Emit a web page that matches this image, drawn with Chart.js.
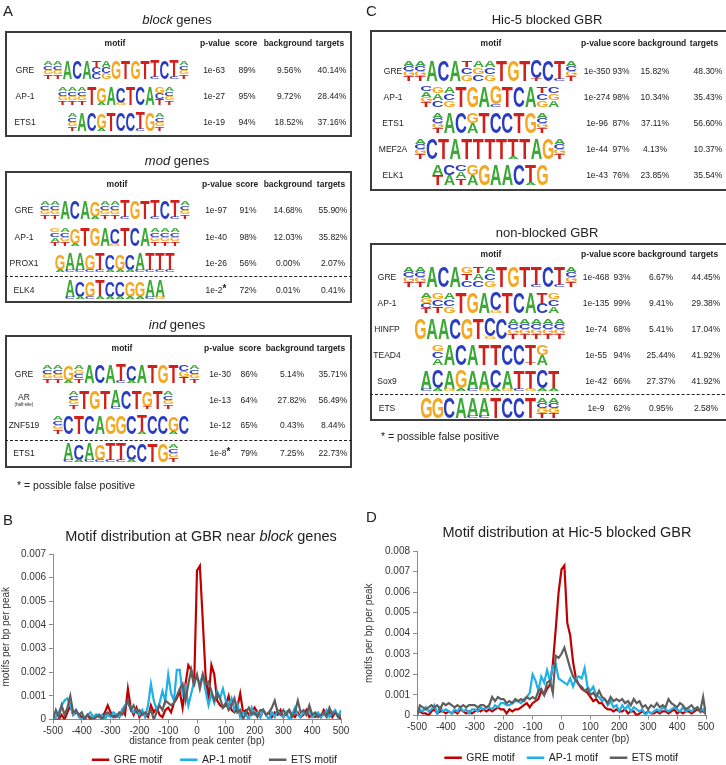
<!DOCTYPE html>
<html>
<head>
<meta charset="utf-8">
<script src="https://cdn.jsdelivr.net/npm/chart.js@4.4.1/dist/chart.umd.min.js"></script>
<style>
  html, body { margin: 0; padding: 0; background: #fff; }
  body { width: 726px; height: 765px; position: relative; overflow: hidden;
         font-family: "Liberation Sans", Arial, sans-serif; color: #222; }
  .abs { position: absolute; white-space: nowrap; line-height: 1; }
  .box { position: absolute; border: 2px solid #3c3c3c; box-sizing: border-box; }
  .dash { position: absolute; height: 0; border-top: 1.4px dashed #222; }
  .hd { font-weight: bold; font-size: 8.5px; }
  .cell { font-size: 8.5px; }
  .ttl { font-size: 13px; }
  .letter { font-size: 15px; }
  .ast { font-weight: bold; font-size: 10px; position: relative; top: -1px; }
  canvas { position: absolute; }
</style>
</head>
<body>
<canvas id="logos" width="726" height="765" style="left:0px;top:0px"></canvas>
<canvas id="chartB" width="363" height="230" style="left:0px;top:545px"></canvas>
<canvas id="chartD" width="363" height="231" style="left:363px;top:542px"></canvas>

<script>
// ── Data: motif distribution profiles ──
const distanceBp = [
  -500, -490, -480, -470, -460, -450, -440, -430, -420, -410,
  -400, -390, -380, -370, -360, -350, -340, -330, -320, -310,
  -300, -290, -280, -270, -260, -250, -240, -230, -220, -210,
  -200, -190, -180, -170, -160, -150, -140, -130, -120, -110,
  -100, -90, -80, -70, -60, -50, -40, -30, -20, -10,
  0, 10, 20, 30, 40, 50, 60, 70, 80, 90,
  100, 110, 120, 130, 140, 150, 160, 170, 180, 190,
  200, 210, 220, 230, 240, 250, 260, 270, 280, 290,
  300, 310, 320, 330, 340, 350, 360, 370, 380, 390,
  400, 410, 420, 430, 440, 450, 460, 470, 480, 490,
  500
];
const seriesNames = ['GRE motif', 'AP-1 motif', 'ETS motif'];

// B: GBR near block genes
const blockGre = [
  0, 0, 0, 0.0002, 0, 0.0003, 0.0006, 0.0002, 0.0003, 0.0002,
  0.0001, 0, 0.0002, 0, 0.0001, 0.0002, 0.0001, 0.0001, 0.0003, 0.0006,
  0.0003, 0.0001, 0.0002, 0.0001, 0.0004, 0.0002, 0.0013, 0.0005, 0.0002, 0.0005,
  0.0001, 0.0003, 0.0002, 0.0001, 0.0006, 0.0003, 0.0005, 0.0002, 0.0001, 0.0004,
  0.0005, 0.0003, 0.0007, 0.0009, 0.0012, 0.0005, 0.0015, 0.0023, 0.0021, 0.0014,
  0.0063, 0.0065, 0.0042, 0.0018, 0.0009, 0.0023, 0.0019, 0.0008, 0.0006, 0.0005,
  0.0006, 0.001, 0.0004, 0.0003, 0.0005, 0.0011, 0.0003, 0.0004, 0.0002, 0.0003,
  0.0005, 0.0003, 0.0001, 0.0004, 0.0002, 0.0003, 0.0001, 0.0003, 0.0002, 0.0004,
  0.0001, 0.0003, 0.0004, 0.0002, 0.0001, 0.0003, 0.0001, 0.0002, 0.0004, 0.0001,
  0.0002, 0.0001, 0.0002, 0.0001, 0.0004, 0.0002, 0.0003, 0.0001, 0.0003, 0.0002,
  0
];
const blockAp1 = [
  0, 0.0001, 0.0003, 0.0006, 0.0008, 0.0009, 0.0006, 0.0002, 0.0004, 0.0001,
  0, 0.0001, 0.0002, 0.0003, 0.0001, 0.0002, 0.0001, 0.0002, 0, 0.0002,
  0.0001, 0.0003, 0.0002, 0.0001, 0.0004, 0.0006, 0.0007, 0.0005, 0.0003, 0.0004,
  0.0002, 0.0004, 0.0001, 0.0006, 0.0015, 0.0008, 0.0004, 0.0007, 0.0012, 0.0008,
  0.0019, 0.0011, 0.0008, 0.0021, 0.0021, 0.0011, 0.0014, 0.0006, 0.0011, 0.0016,
  0.0018, 0.0015, 0.0019, 0.0012, 0.0006, 0.0011, 0.0007, 0.0012, 0.0009, 0.0013,
  0.0008, 0.0006, 0.0009, 0.0004, 0.0007, 0.0001, 0.0003, 0.0002, 0, 0.0005,
  0.0002, 0.0003, 0.0001, 0.0004, 0.0002, 0, 0.0003, 0.0001, 0.0004, 0.0002,
  0.0001, 0.0003, 0, 0.0002, 0.0005, 0.0002, 0.0001, 0.0003, 0.0002, 0.0004,
  0.0001, 0.0002, 0.0003, 0.0001, 0.0002, 0.0004, 0.0001, 0.0003, 0.0004, 0.0001,
  0.0004
];
const blockEts = [
  0, 0.0004, 0.0001, 0.0006, 0.0002, 0.0005, 0.001, 0.0003, 0.0004, 0.0002,
  0.0003, 0, 0.0002, 0.0001, 0, 0.0001, 0.0002, 0, 0.0002, 0.0003,
  0.0002, 0.0001, 0.0001, 0.0003, 0.0002, 0.0005, 0.0008, 0.0004, 0.0006, 0.0003,
  0.0004, 0.0002, 0.0003, 0.0002, 0.0004, 0, 0.0003, 0.0006, 0.0004, 0.0008,
  0.0007, 0.0006, 0.0007, 0.001, 0.0013, 0.0015, 0.0008, 0.0015, 0.0021, 0.0015,
  0.0019, 0.0013, 0.0019, 0.0015, 0.0016, 0.0012, 0.0008, 0.0011, 0.0009, 0.0005,
  0.0007, 0.0004, 0.0006, 0.0009, 0.0003, 0.0004, 0, 0.0003, 0.0005, 0.0002,
  0.0003, 0.0001, 0.0004, 0.0004, 0.0002, 0.0003, 0.0005, 0.0008, 0.0003, 0.0002,
  0.0004, 0.0002, 0.0004, 0.0001, 0.0003, 0.0008, 0.0003, 0.0004, 0.0002, 0.0006,
  0.0002, 0.0003, 0.0001, 0.0002, 0.0003, 0.0001, 0.0005, 0.0002, 0.0003, 0.0001,
  0.0002
];

// D: Hic-5 blocked GBR
const hicGre = [
  0.0001, 0.0002, 0.0001, 0.0001, 0, 0.0002, 0.0003, 0.0001, 0.0002, 0.0002,
  0.0001, 0.0002, 0.0001, 0.0002, 0.0001, 0.0003, 0.0002, 0.0001, 0.0002, 0.0001,
  0.0002, 0.0003, 0.0002, 0.0003, 0.0002, 0.0003, 0.0002, 0.0003, 0.0004, 0.0003,
  0.0003, 0.0001, 0.0003, 0.0002, 0.0003, 0.0003, 0.0004, 0.0005, 0.0006, 0.0004,
  0.0006, 0.0007, 0.0008, 0.0012, 0.001, 0.0013, 0.0015, 0.0025, 0.0042, 0.006,
  0.0071, 0.0073, 0.0045, 0.0039, 0.0026, 0.0018, 0.0015, 0.0013, 0.0012, 0.0011,
  0.0009, 0.0007, 0.0008, 0.0006, 0.0006, 0.0004, 0.0003, 0.0003, 0.0002, 0.0003,
  0.0002, 0.0002, 0.0003, 0.0001, 0.0002, 0.0002, 0, 0.0001, 0.0002, 0.0001,
  0.0002, 0.0001, 0.0001, 0.0002, 0.0001, 0.0002, 0.0002, 0.0001, 0.0002, 0.0003,
  0.0001, 0.0002, 0.0001, 0.0002, 0.0002, 0.0001, 0.0002, 0.0003, 0.0002, 0.0002,
  0.0001
];
const hicAp1 = [
  0, 0.0003, 0.0002, 0.0004, 0.0002, 0.0003, 0.0005, 0.0001, 0.0004, 0.0002,
  0.0003, 0.0002, 0.0001, 0.0003, 0.0002, 0.0004, 0.0002, 0.0003, 0.0001, 0.0003,
  0.0003, 0.0002, 0.0004, 0.0003, 0.0004, 0.0004, 0.0003, 0.0005, 0.0004, 0.0006,
  0.0006, 0.0005, 0.0005, 0.0006, 0.0007, 0.0007, 0.0006, 0.0008, 0.0009, 0.0011,
  0.002, 0.0017, 0.0012, 0.0019, 0.0016, 0.0022, 0.0017, 0.0024, 0.0025, 0.0018,
  0.0017, 0.0016, 0.0015, 0.0018, 0.0014, 0.0018, 0.0019, 0.0018, 0.0023, 0.0014,
  0.0012, 0.0014, 0.001, 0.0009, 0.0007, 0.0008, 0.0005, 0.0007, 0.0004, 0.0005,
  0.0002, 0.0005, 0.0003, 0.0005, 0.0002, 0.0004, 0.0003, 0.0002, 0.0003, 0,
  0.0002, 0.0001, 0.0002, 0.0003, 0.0002, 0.0004, 0.0003, 0.0002, 0.0003, 0.0004,
  0.0003, 0.0002, 0.0004, 0.0002, 0.0003, 0.0002, 0.0003, 0.0004, 0.0002, 0.0003,
  0.0001
];
const hicEts = [
  0, 0.0005, 0.0004, 0.0003, 0.0004, 0.0005, 0.0004, 0.0005, 0.0003, 0.0006,
  0.0005, 0.0006, 0.0005, 0.0004, 0.0005, 0.0004, 0.0005, 0.0004, 0.0005, 0.0005,
  0.0005, 0.0004, 0.0005, 0.0005, 0.0004, 0.0005, 0.0009, 0.0007, 0.0009, 0.0008,
  0.0008, 0.0006, 0.0007, 0.0006, 0.0008, 0.0007, 0.0008, 0.0007, 0.0009, 0.0008,
  0.0009, 0.0008, 0.0012, 0.0013, 0.001, 0.0016, 0.0017, 0.0011, 0.0029, 0.0028,
  0.003, 0.0033, 0.0028, 0.0023, 0.0019, 0.0017, 0.0015, 0.0014, 0.0012, 0.0013,
  0.001, 0.0011, 0.0009, 0.0012, 0.0009, 0.0008, 0.0006, 0.0009, 0.0007, 0.0008,
  0.0007, 0.0008, 0.0006, 0.0007, 0.0005, 0.0008, 0.0006, 0.0007, 0.0004, 0.0005,
  0.0003, 0.0005, 0.0004, 0.0006, 0.0004, 0.0005, 0.0004, 0.0008, 0.0006, 0.0005,
  0.0004, 0.0006, 0.0005, 0.0003, 0.0004, 0.0005, 0.0003, 0.0004, 0.0002, 0.0009,
  0
];

// ── Data: motif enrichment tables ──
// logo columns, top to bottom; upper case = dominant base, lower case = minor bases
const tableHeader = ['motif', 'p-value', 'score', 'background', 'targets'];

const blockRows = [
  ['GRE', ['acgt','acgt','A','C','A','tcc','acg','G','T','G','T','Tc','C','Tc','acgt'], '1e-63', '89%', '9.56%', '40.14%'],
  ['AP-1', ['acgt','acgt','acgt','T','Ga','A','Cg','T','C','A','gct','acgt'], '1e-27', '95%', '9.72%', '28.44%'],
  ['ETS1', ['acgt','A','C','Ga','T','C','C','Tc','G','acgt'], '1e-19', '94%', '18.52%', '37.16%']
];
const modRows = [
  ['GRE', ['acgt','acgt','A','C','A','Ga','acgt','acgt','Tc','G','T','Tc','C','Tc','acgt'], '1e-97', '91%', '14.68%', '55.90%'],
  ['AP-1', ['gcat','acgt','Ga','T','G','A','Cg','T','C','A','acgt','acgt','acgt'], '1e-40', '98%', '12.03%', '35.82%'],
  ['PROX1', ['Ga','Ac','Ac','Gc','Tc','Ca','Ga','Ca','Ac','Tc','Tc','Tc'], '1e-26', '56%', '0.00%', '2.07%'],
  ['ELK4', ['Ac','Ca','Gc','Ta','Ca','Ca','Ga','Ga','Ac','Ag'], '1e-2*', '72%', '0.01%', '0.41%']
];
const indRows = [
  ['GRE', ['acgt','acgt','Ga','agct','A','C','A','Tc','Ca','A','T','G','T','cgt','acgt'], '1e-30', '86%', '5.14%', '35.71%'],
  ['AR', ['acgt','T','G','T','Ac','C','T','Gt','T','acgt'], '1e-13', '64%', '27.82%', '56.49%'],
  ['ZNF519', ['acgt','C','T','C','A','G','G','C','Ta','C','C','Ga','C'], '1e-12', '65%', '0.43%', '8.44%'],
  ['ETS1', ['Ac','Ca','Ac','Gc','Tc','Tc','Ca','C','T','G','acgt'], '1e-8*', '79%', '7.25%', '22.73%']
];
const hicRows = [
  ['GRE', ['acgt','acgt','A','C','A','tcg','agc','acg','T','G','T','Ct','C','Tc','acgt'], '1e-350', '93%', '15.82%', '48.30%'],
  ['AP-1', ['cagt','gac','acg','T','G','A','Gc','T','C','A','tcg','cga'], '1e-274', '98%', '10.34%', '35.43%'],
  ['ETS1', ['acgt','A','C','ga','T','C','C','T','G','acgt'], '1e-96', '87%', '37.11%', '56.60%'],
  ['MEF2A', ['acgt','C','T','A','T','T','T','T','Ta','T','A','G','acgt'], '1e-44', '97%', '4.13%', '10.37%'],
  ['ELK1', ['at','ca','cat','ga','G','A','A','C','Ta','G'], '1e-43', '76%', '23.85%', '35.54%']
];
const nonRows = [
  ['GRE', ['acgt','acgt','A','C','A','gtc','tac','acg','T','G','T','Tc','C','Tc','acgt'], '1e-468', '93%', '6.67%', '44.45%'],
  ['AP-1', ['agct','gct','acg','T','G','A','Cg','T','C','A','tc','gca'], '1e-135', '99%', '9.41%', '29.38%'],
  ['HINFP', ['G','A','A','C','G','T','Cg','C','acgt','acgt','acgt','acgt','acgt'], '1e-74', '68%', '5.41%', '17.04%'],
  ['TEAD4', ['gca','A','C','A','T','T','C','C','Tt','ga'], '1e-55', '94%', '25.44%', '41.92%'],
  ['Sox9', ['Ac','Ca','Ag','Ga','Ac','Ag','Ca','Ag','Tc','Tg','Ca','Ta'], '1e-42', '66%', '27.37%', '41.92%'],
  ['ETS', ['G','G','C','A','Ac','Ac','T','C','C','T','acgt','acgt'], '1e-9', '62%', '0.95%', '2.58%']
];

// ── Helpers ──
const BASE_COLORS = { A: '#3aa935', C: '#2a3cc2', G: '#f4a720', T: '#d11f1c' };

function addText(html, x, y, cls, anchor) {
  const d = document.createElement('div');
  d.className = 'abs ' + (cls || '');
  d.innerHTML = html;
  d.style.left = x + 'px';
  d.style.top = y + 'px';
  d.style.transform = anchor === 'left' ? 'translate(0,-50%)' : 'translate(-50%,-50%)';
  document.body.appendChild(d);
  return d;
}

function addBox(x, y, w, h) {
  const d = document.createElement('div');
  d.className = 'box';
  Object.assign(d.style, { left: x + 'px', top: y + 'px', width: w + 'px', height: h + 'px' });
  document.body.appendChild(d);
}

function addDash(x, y, w) {
  const d = document.createElement('div');
  d.className = 'dash';
  Object.assign(d.style, { left: x + 'px', top: y + 'px', width: w + 'px' });
  document.body.appendChild(d);
}

const logoCtx = document.getElementById('logos').getContext('2d');

function drawLetter(ch, x, y, w, h) {
  if (h < 0.5) return;
  const ctx = logoCtx;
  ctx.save();
  ctx.font = 'bold 100px "Liberation Sans", Arial, sans-serif';
  const m = ctx.measureText(ch);
  const gw = m.actualBoundingBoxLeft + m.actualBoundingBoxRight;
  const gh = m.actualBoundingBoxAscent + m.actualBoundingBoxDescent;
  ctx.translate(x, y);
  ctx.scale(w / gw, h / gh);
  ctx.fillStyle = BASE_COLORS[ch];
  ctx.fillText(ch, m.actualBoundingBoxLeft, m.actualBoundingBoxAscent);
  ctx.restore();
}

function drawLogo(cols, cx, cy, colW, H) {
  let x = cx - cols.length * colW / 2;
  const top = cy - H / 2;
  cols.forEach(col => {
    const items = [...col].map(c => ({ ch: c.toUpperCase(), w: c === c.toUpperCase() ? 7 : 1 }));
    const sum = items.reduce((s, it) => s + it.w, 0);
    let y = top;
    items.forEach(it => {
      const h = H * it.w / sum;
      drawLetter(it.ch, x + 0.4, y + 0.2, colW - 0.8, h - 0.4);
      y += h;
    });
    x += colW;
  });
}

function pValueHtml(p) {
  return p.endsWith('*') ? p.slice(0, -1) + '<span class="ast">*</span>' : p;
}

function buildTable(t) {
  addText(t.title, t.titleX, t.titleY, 'ttl');
  addBox(t.box[0], t.box[1], t.box[2], t.box[3]);
  tableHeader.forEach((h, i) => addText(h, t.headX[i], t.headY, 'hd'));
  t.rows.forEach((r, i) => {
    const y = t.rowY[i];
    if (r[0] === 'AR') {
      addText('AR', t.labelX, y - 3, 'cell');
      addText('(half-site)', t.labelX, y + 5, 'cell').style.fontSize = '4.5px';
    } else {
      addText(r[0], t.labelX, y, 'cell');
    }
    drawLogo(r[1], t.logoX, y, t.colW, t.logoH);
    addText(pValueHtml(r[2]), t.colX[0], y, 'cell');
    addText(r[3], t.colX[1], y, 'cell');
    addText(r[4], t.colX[2], y, 'cell');
    addText(r[5], t.colX[3], y, 'cell');
  });
  if (t.dashY) addDash(t.box[0], t.dashY, t.box[2]);
}

// ── Panel A ──
addText('A', 3, 10, 'letter', 'left');
buildTable({
  title: '<i>block</i> genes', titleX: 177, titleY: 19,
  box: [5, 31, 347, 106], headY: 43, headX: [115, 215, 246, 288, 330],
  rows: blockRows, rowY: [70, 96, 122], labelX: 25,
  logoX: 116, colW: 9.7, logoH: 19, colX: [214, 247, 289, 332]
});
buildTable({
  title: '<i>mod</i> genes', titleX: 177, titleY: 160,
  box: [5, 171, 347, 132], headY: 184, headX: [117, 217, 247, 288, 331],
  rows: modRows, rowY: [210, 237, 263, 290], labelX: 24,
  logoX: 115, colW: 10, logoH: 19, colX: [216, 248, 288, 333], dashY: 276
});
buildTable({
  title: '<i>ind</i> genes', titleX: 177, titleY: 324,
  box: [5, 335, 347, 133], headY: 348, headX: [122, 219, 250, 290, 331],
  rows: indRows, rowY: [374, 400, 425, 453], labelX: 24,
  logoX: 121, colW: 10.5, logoH: 19, colX: [220, 249, 292, 333], dashY: 440
});
addText('* = possible false positive', 17, 485, '', 'left').style.fontSize = '10.5px';

// ── Panel C ──
addText('C', 366, 10, 'letter', 'left');
buildTable({
  title: 'Hic-5 blocked GBR', titleX: 547, titleY: 19,
  box: [370, 30, 380, 161], headY: 43, headX: [491, 596, 624, 662, 704],
  rows: hicRows, rowY: [71, 97, 123, 149, 175], labelX: 393,
  logoX: 490, colW: 11.6, logoH: 21, colX: [597, 621, 655, 708]
});
buildTable({
  title: 'non-blocked GBR', titleX: 547, titleY: 232,
  box: [370, 243, 380, 178], headY: 254, headX: [491, 596, 624, 662, 704],
  rows: nonRows, rowY: [277, 303, 329, 355, 381, 408], labelX: 387,
  logoX: 490, colW: 11.6, logoH: 21, colX: [596, 622, 661, 706], dashY: 394
});
addText('* = possible false positive', 381, 436, '', 'left').style.fontSize = '10.5px';

// ── Panels B and D: line charts ──
addText('B', 3, 519, 'letter', 'left');
addText('Motif distribution at GBR near <i>block</i> genes', 201, 536, '').style.fontSize = '14.5px';
addText('D', 366, 516, 'letter', 'left');
addText('Motif distribution at Hic-5 blocked GBR', 567, 532, '').style.fontSize = '14.5px';

const LINE_COLORS = ['#c00000', '#1eb0e8', '#5f5f5f'];

function toPoints(values) {
  return values.map((v, i) => ({ x: distanceBp[i], y: v }));
}

function makeProfileChart(id, yMax, series, yAxisWidth, xAxisHeight, padRight, legendAlign, legendGap) {
  const font = { family: '"Liberation Sans", Arial, sans-serif', size: 10 };
  new Chart(document.getElementById(id), {
    type: 'line',
    data: {
      datasets: series.map((vals, i) => ({
        label: seriesNames[i],
        data: toPoints(vals),
        borderColor: LINE_COLORS[i],
        backgroundColor: LINE_COLORS[i],
        borderWidth: 2.2,
        pointRadius: 0,
        tension: 0,
        order: 2 - i
      }))
    },
    options: {
      responsive: false,
      animation: false,
      layout: { padding: { top: 8, right: padRight, left: 0, bottom: 0 } },
      plugins: {
        tooltip: { enabled: false },
        legend: {
          position: 'bottom',
          align: legendAlign,
          fullSize: false,
          labels: {
            boxWidth: 16,
            boxHeight: 1,
            padding: 4,
            color: '#222',
            font: { family: font.family, size: 10.5 },
            sort: (a, b) => a.datasetIndex - b.datasetIndex,
            generateLabels: chart => {
              const items = Chart.defaults.plugins.legend.labels.generateLabels(chart);
              items.forEach(it => {
                it.lineWidth = 1.5;
                if (it.datasetIndex < 2) it.text += ' '.repeat(legendGap);
              });
              return items;
            }
          }
        }
      },
      scales: {
        x: {
          type: 'linear',
          min: -500,
          max: 500,
          afterFit: s => { s.height = xAxisHeight; },
          ticks: { stepSize: 100, color: '#333', font, padding: 2, maxRotation: 0 },
          grid: { drawOnChartArea: false, tickLength: 4, color: '#8c8c8c' },
          border: { color: '#8c8c8c', width: 1 },
          title: { display: true, text: 'distance from peak center (bp)', color: '#333', font, padding: { top: 2, bottom: 3 } }
        },
        y: {
          min: 0,
          max: yMax,
          afterFit: s => { s.width = yAxisWidth; },
          ticks: {
            stepSize: 0.001,
            color: '#333',
            font,
            padding: 3,
            callback: v => (v === 0 ? '0' : v.toFixed(3))
          },
          grid: { drawOnChartArea: false, tickLength: 4, color: '#8c8c8c' },
          border: { color: '#8c8c8c', width: 1 },
          title: { display: true, text: 'motifs per bp per peak', color: '#333', font, padding: { top: 0, bottom: 2 } }
        }
      }
    }
  });
}

makeProfileChart('chartB', 0.007, [blockGre, blockAp1, blockEts], 53, 31, 22, 'end', 5);
makeProfileChart('chartD', 0.008, [hicGre, hicAp1, hicEts], 54, 33, 20, 'center', 3);
</script>
</body>
</html>
